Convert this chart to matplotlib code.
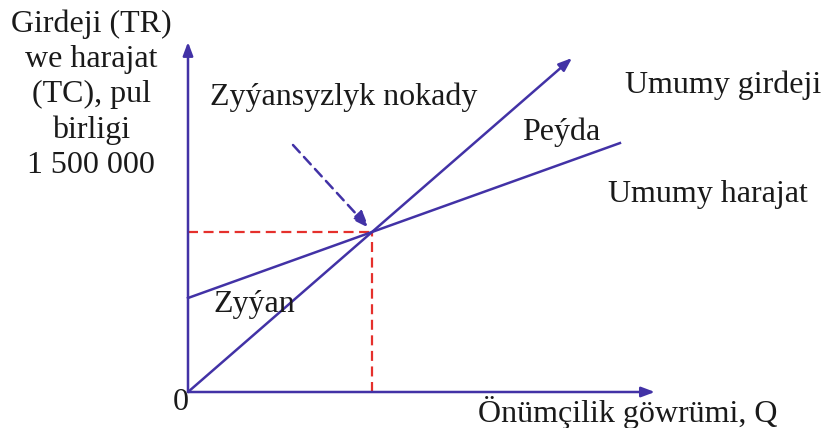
import matplotlib
matplotlib.use("Agg")
import matplotlib.pyplot as plt
import numpy as np

# ---- data ----
fixed_cost = 2.35          # TC at Q = 0
price = 1.0                # TR slope
unit_cost = 0.4125         # TC slope
q_tr_end = 8.35
q_tc_end = 9.39
q_axis_end = 10.15
y_axis_end = 8.75

labels_y = ["Girdeji (TR)", "we harajat", "(TC), pul", "birligi", "1 500 000"]
label_x = "Önümçilik göwrümi, Q"
label_tr = "Umumy girdeji"
label_tc = "Umumy harajat"
label_be = "Zyýansyzlyk nokady"
label_profit = "Peýda"
label_loss = "Zyýan"

# ---- figure ----
W, H = 826, 428
fig = plt.figure(figsize=(W / 100, H / 100), dpi=100)
ax = fig.add_axes([0, 0, 1, 1])
ox, oy, sx, sy = 188, 392, 46.0, 40.0
ax.set_xlim(-ox / sx, (W - ox) / sx)
ax.set_ylim((oy - H) / sy, oy / sy)
ax.axis("off")

def px(x, y):
    return ((x - ox) / sx, (oy - y) / sy)

blue = "#4232a6"
red = "#e5302c"
font = dict(family="Liberation Serif", color="#1a1a1a")
fs = 23

q_be = fixed_cost / (price - unit_cost)
y_be = price * q_be

# red dashed guides
ax.plot([0, q_be], [y_be, y_be], color=red, lw=1.6, ls=(0, (4.5, 2.5)), zorder=2)
ax.plot([q_be, q_be], [0, y_be], color=red, lw=1.6, ls=(0, (4.5, 2.5)), zorder=2)

# axes with arrows
arrow_kw = dict(arrowstyle="-|>,head_length=0.8,head_width=0.3", color=blue, lw=1.8,
                shrinkA=0, shrinkB=0)
ax.annotate("", xy=(0, y_axis_end), xytext=(0, 0), arrowprops=arrow_kw, zorder=3)
ax.annotate("", xy=(q_axis_end, 0), xytext=(0, 0), arrowprops=arrow_kw, zorder=3)

# TR line with arrow
ax.annotate("", xy=(q_tr_end, price * q_tr_end), xytext=(0, 0), arrowprops=arrow_kw, zorder=3)
# TC line
q = np.array([0, q_tc_end])
ax.plot(q, fixed_cost + unit_cost * q, color=blue, lw=1.8, zorder=3)

# dashed pointer to break-even
ax.annotate("", xy=px(369, 228), xytext=px(293, 145),
            arrowprops=dict(arrowstyle="-|>,head_length=1.0,head_width=0.38", color=blue,
                            lw=1.8, ls=(0, (4, 2.5)), shrinkA=0, shrinkB=0), zorder=3)

# texts
for i, t in enumerate(labels_y):
    ax.text(*px(91, 32 + i * 35.2), t, ha="center", va="baseline", fontsize=fs, **font)
ax.text(*px(181, 410), "0", ha="center", va="baseline", fontsize=fs, **font)
ax.text(*px(478, 422), label_x, ha="left", va="baseline", fontsize=fs, **font)
ax.text(*px(210, 105), label_be, ha="left", va="baseline", fontsize=fs, **font)
ax.text(*px(522, 140), label_profit, ha="left", va="baseline", fontsize=fs, **font)
ax.text(*px(625, 93), label_tr, ha="left", va="baseline", fontsize=fs, **font)
ax.text(*px(608, 202), label_tc, ha="left", va="baseline", fontsize=fs, **font)
ax.text(*px(213, 312), label_loss, ha="left", va="baseline", fontsize=fs, **font)

fig.savefig("out.png", dpi=100, facecolor="white")
